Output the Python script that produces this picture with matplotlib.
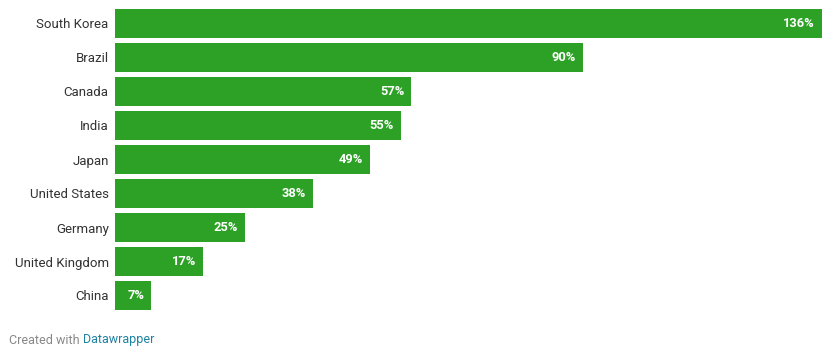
import matplotlib.pyplot as plt

countries = ['South Korea', 'Brazil', 'Canada', 'India', 'Japan',
             'United States', 'Germany', 'United Kingdom', 'China']
values = [136, 90, 57, 55, 49, 38, 25, 17, 7]

plt.rcParams['font.family'] = ['Roboto', 'DejaVu Sans']

W, H = 833, 358
fig = plt.figure(figsize=(W / 100, H / 100), dpi=100)
ax = fig.add_axes([115 / W, 1 - 312.5 / H, (822 - 115) / W, 306 / H])

ypos = list(range(len(countries)))
ax.barh(ypos, values, height=0.85, color='#2ca125')
ax.set_xlim(0, 136)
ax.set_ylim(len(countries) - 0.5, -0.5)

for y, v in zip(ypos, values):
    ax.annotate(f'{v}%', (v, y), xytext=(-5, 0), textcoords='offset points',
                ha='right', va='center', color='white', fontsize=9.3, fontweight='bold')

ax.set_yticks(ypos)
ax.set_yticklabels(countries, fontsize=9.5, color='#333333')
ax.tick_params(axis='y', length=0, pad=4.5)
ax.set_xticks([])
for s in ax.spines.values():
    s.set_visible(False)

# footer: place the link right after the grey text
t = fig.text(9 / W, 1 - 340 / H, 'Created with', fontsize=9, color='#888888', va='center')
fig.canvas.draw()
bb = t.get_window_extent()
fig.text((bb.x1 + 3.5) / W, 1 - 340 / H, 'Datawrapper', fontsize=9, color='#1d81a2', va='center')

fig.savefig('out.png', dpi=100)
